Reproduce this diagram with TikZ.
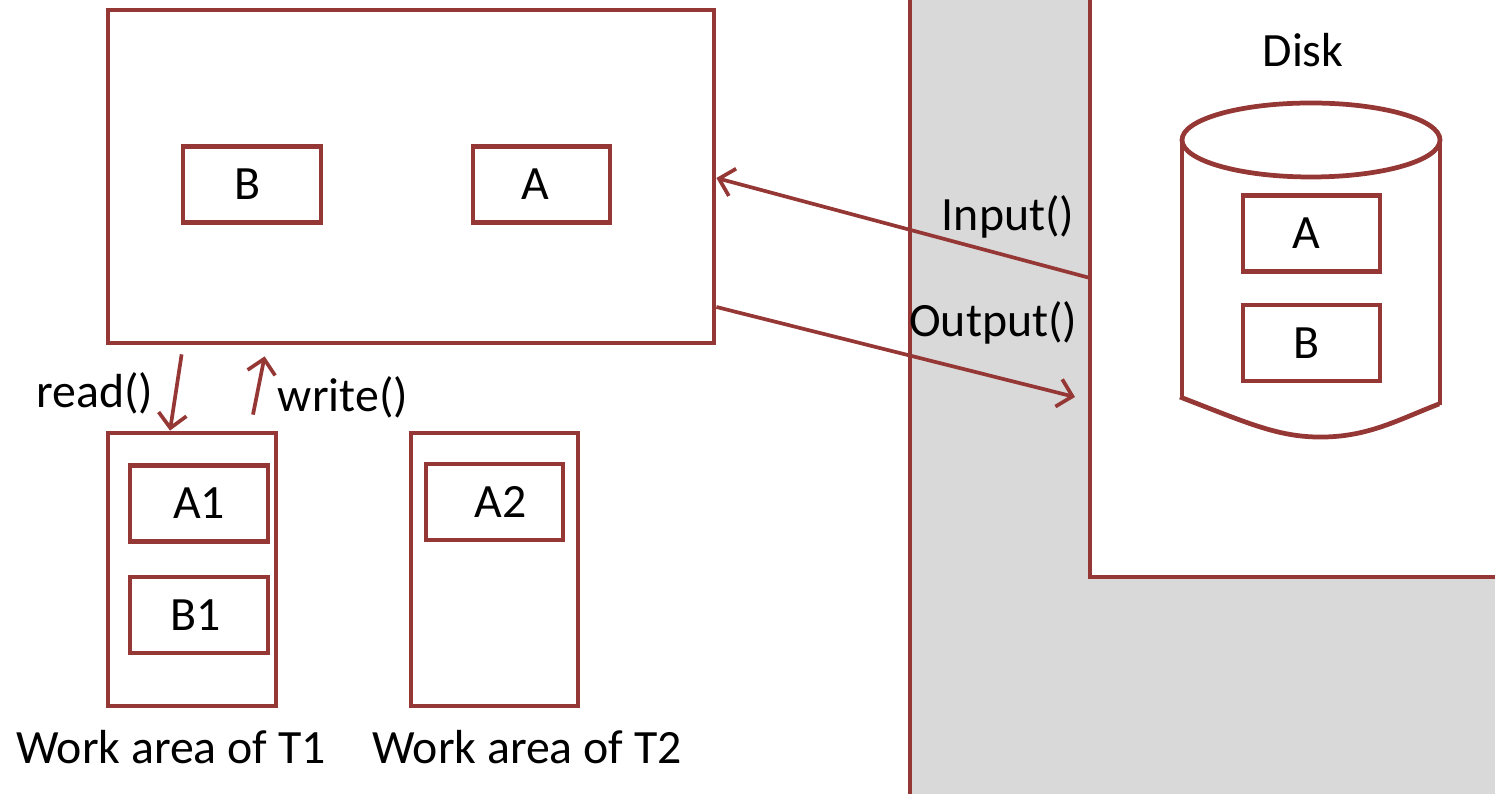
\documentclass[tikz,border=0pt]{standalone}
\usepackage{fontspec}
\setmainfont{Carlito}
\usetikzlibrary{arrows.meta,positioning}
\definecolor{boxred}{RGB}{149,55,53}
\definecolor{osgray}{RGB}{217,217,217}
\tikzset{
  areabox/.style={draw=boxred,line width=1.35pt,inner sep=0pt},
  itembox/.style={draw=boxred,line width=1.35pt,minimum width=1.37cm,minimum height=0.76cm,inner sep=0pt},
  flow/.style={draw=boxred,line width=1.05pt,-{Straight Barb[length=4pt,width=8pt,line width=1.05pt]}},
  lbl/.style={inner sep=0pt,font=\fontsize{13.6}{16}\selectfont}
}

\begin{document}
\begin{tikzpicture}[font=\fontsize{13.6}{16}\selectfont]
  \useasboundingbox (0,0) rectangle (14.95,7.94);
  % storage side
  \fill[osgray] (9.10,0) -- (9.10,7.94) -- (10.90,7.94) -- (10.90,2.17)
    -- (14.95,2.17) -- (14.95,0) -- cycle;
  \draw[boxred,line width=1.35pt] (9.10,0) -- (9.10,7.94);
  \draw[boxred,line width=1.35pt] (10.90,7.94) -- (10.90,2.17) -- (14.95,2.17);

  % buffer in main memory
  \node[areabox,minimum width=6.06cm,minimum height=3.33cm] (mem) at (4.11,6.175) {};
  \node[itembox,minimum width=1.38cm] (memB) at (2.52,6.095) {\kern-1mm B};
  \node[itembox] (memA) at (5.415,6.095) {\kern-1.2mm A};

  % work areas
  \node[areabox,minimum width=1.68cm,minimum height=2.73cm] (wa1) at (1.92,2.245) {};
  \node[itembox,minimum width=1.38cm] (a1) at (1.99,2.905) {A1};
  \node[itembox,minimum width=1.38cm] (b1) at (1.99,1.79) {\kern-0.6mm B1};
  \node[areabox,minimum width=1.67cm,minimum height=2.73cm] (wa2) at (4.945,2.245) {};
  \node[itembox] (a2) at (4.945,2.92) {\kern1.2mm A2};
  \node[lbl] (wa1lbl) at (1.71,0.47) {Work area of T1};
  \node[lbl] (wa2lbl) at (5.27,0.47) {Work area of T2};

  % disk
  \node[lbl] (disklbl) at (13.03,7.44) {Disk};
  \draw[boxred,line width=1.35pt] (13.11,6.54) ellipse (1.29 and 0.37);
  \draw[boxred,line width=1.35pt] (11.82,6.54) -- (11.82,3.96);
  \draw[boxred,line width=1.35pt] (14.40,6.54) -- (14.40,3.89);
  \draw[boxred,line width=1.35pt] (11.80,3.97) .. controls (12.5,3.70) and (12.8,3.56) .. (13.25,3.57)
    .. controls (13.7,3.58) and (14.0,3.75) .. (14.39,3.90);
  \node[itembox] (diskA) at (13.115,5.605) {\kern-1mm A};
  \node[itembox] (diskB) at (13.115,4.51) {\kern-1mm B};

  % transfers
  \coordinate (inS) at (10.90,5.16);
  \coordinate (outS) at ([yshift=-1.305cm]mem.east);
  \coordinate (outE) at (10.75,3.97);
  \draw[flow] (inS) -- ([yshift=-0.015cm]mem.east);
  \draw[flow] (outS) -- (outE);
  \node[lbl,anchor=east] (inlbl) at (10.75,5.77) {Input()};
  \node[lbl,anchor=east] (outlbl) at (10.78,4.71) {Output()};

  \coordinate (rdS) at ([xshift=0.76cm,yshift=-0.09cm]mem.south west);
  \coordinate (wrE) at ([xshift=1.59cm,yshift=-0.11cm]mem.south west);
  \draw[flow] (rdS) -- ([xshift=-0.22cm]wa1.north);
  \draw[flow] ([xshift=0.61cm,yshift=0.16cm]wa1.north) -- (wrE);
  \node[lbl] (rdlbl) at (0.95,4.01) {read()};
  \node[lbl] (wrlbl) at (3.43,3.97) {write()};
\end{tikzpicture}
\end{document}
